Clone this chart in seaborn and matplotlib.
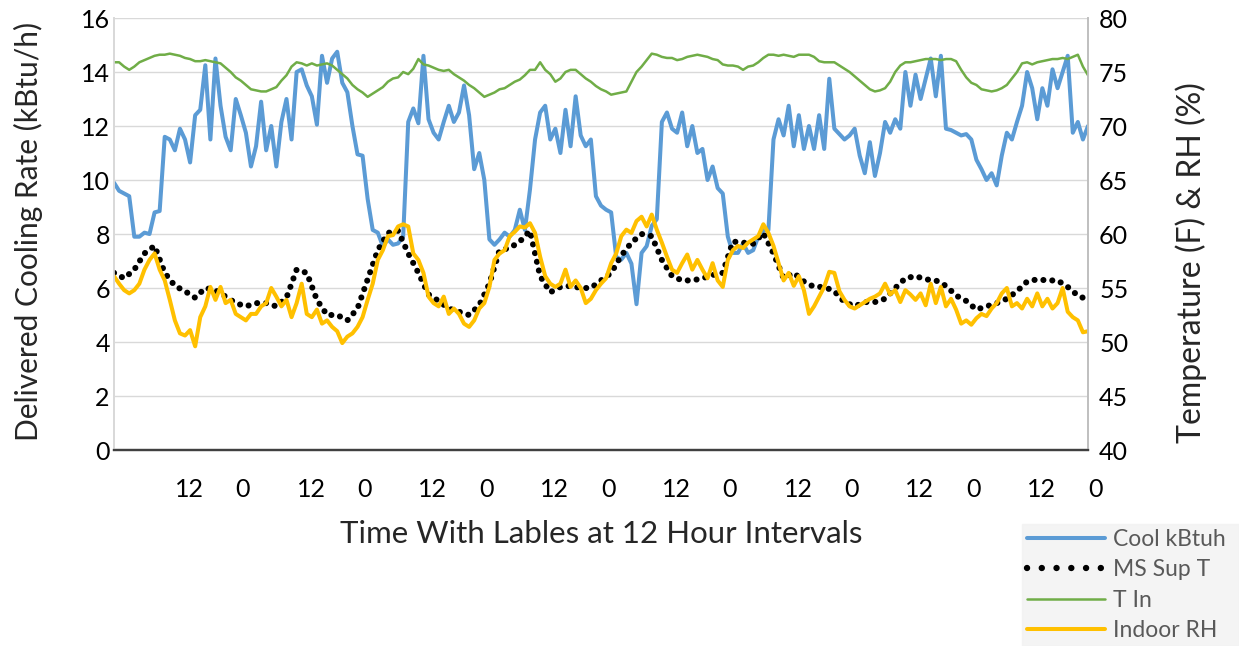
import matplotlib
matplotlib.use("Agg")
import matplotlib.pyplot as plt
from matplotlib.lines import Line2D
import pandas as pd
import seaborn as sns

# Hourly samples over eight days (hour 0 .. 192)
hours = list(range(0, 193))

cool_kbtuh = [
    9.9, 9.6, 9.5, 9.4, 7.9, 7.9, 8.05, 8.0, 8.8, 8.85, 11.6, 11.5, 11.1, 11.9,
    11.5, 10.65, 12.4, 12.6, 14.25, 11.5, 14.5, 12.75, 11.6, 11.1, 13.0, 12.4, 11.75, 10.5,
    11.25, 12.9, 11.1, 12.0, 10.5, 12.15, 13.0, 11.5, 14.0, 14.1, 13.5, 13.1, 12.05, 14.6,
    13.6, 14.5, 14.75, 13.6, 13.25, 12.0, 10.95, 10.9, 9.3, 8.15, 8.05, 7.55, 7.8, 7.6,
    7.65, 7.9, 12.15, 12.65, 12.1, 14.6, 12.25, 11.75, 11.5, 12.15, 12.75, 12.15, 12.5, 13.5,
    12.4, 10.4, 11.0, 10.0, 7.8, 7.6, 7.8, 8.05, 7.9, 8.15, 8.9, 8.15, 9.65,
    11.5, 12.5, 12.75, 11.5, 11.9, 11.0, 12.6, 11.25, 13.1, 11.65, 11.25, 11.5, 9.4, 9.05,
    8.9, 8.8, 7.15, 7.05, 7.3, 6.9, 5.4, 7.3, 7.55, 8.3, 8.55, 12.15, 12.5, 11.9,
    11.75, 12.5, 11.25, 12.0, 11.0, 11.15, 10.0, 10.5, 9.7, 9.5, 7.9, 7.3, 7.3, 7.65,
    7.3, 7.4, 7.9, 8.15, 8.15, 11.5, 12.25, 11.65, 12.75, 11.25, 12.4, 11.15, 12.0,
    11.15, 12.4, 11.15, 13.75, 11.9, 11.7, 11.5, 11.65, 11.9, 10.9, 10.25, 11.4, 10.15, 11.0,
    12.15, 11.75, 12.25, 11.9, 14.0, 12.75, 13.9, 13.0, 13.75, 14.5, 13.1, 14.6, 11.9, 11.85,
    11.75, 11.65, 11.7, 11.5, 10.75, 10.4, 10.0, 10.25, 9.8, 10.9, 11.75, 11.5, 12.15, 12.75,
    14.0, 13.4, 12.25, 13.4, 12.75, 14.1, 13.4, 14.0, 14.6, 11.75, 12.15, 11.5, 12.0,
]

t_in = [
    75.9, 75.9, 75.5, 75.2, 75.5, 75.9, 76.1, 76.3, 76.5, 76.6, 76.6, 76.7, 76.6, 76.5,
    76.3, 76.2, 76.0, 76.0, 76.1, 76.0, 75.9, 75.8, 75.4, 75.0, 74.5, 74.2, 73.8, 73.4,
    73.3, 73.2, 73.2, 73.4, 73.6, 74.2, 74.7, 75.5, 75.9, 75.8, 75.6, 75.8, 75.6, 75.7,
    75.8, 75.6, 75.2, 74.8, 74.4, 73.8, 73.4, 73.1, 72.7, 73.0, 73.3, 73.6, 74.1, 74.4,
    74.5, 75.0, 74.8, 75.3, 76.2, 75.7, 75.6, 75.4, 75.2, 75.1, 75.2, 74.8, 74.5, 74.2,
    73.8, 73.5, 73.1, 72.7, 72.9, 73.1, 73.4, 73.5, 73.8, 74.1, 74.3, 74.7, 75.2,
    75.2, 75.9, 75.2, 74.8, 74.1, 74.4, 75.0, 75.2, 75.2, 74.8, 74.4, 74.1, 73.7, 73.4,
    73.2, 72.9, 73.0, 73.1, 73.2, 74.1, 75.0, 75.5, 76.1, 76.7, 76.6, 76.4, 76.3, 76.3,
    76.1, 76.2, 76.4, 76.5, 76.6, 76.5, 76.4, 76.2, 76.1, 75.7, 75.6, 75.6, 75.5, 75.2,
    75.5, 75.6, 75.9, 76.3, 76.6, 76.6, 76.5, 76.6, 76.5, 76.4, 76.6, 76.6, 76.6,
    76.4, 76.0, 75.9, 75.9, 75.9, 75.6, 75.3, 75.0, 74.6, 74.2, 73.8, 73.4, 73.2, 73.3,
    73.5, 74.1, 75.0, 75.6, 75.9, 75.9, 76.0, 76.1, 76.2, 76.2, 76.2, 76.1, 76.2, 76.2,
    76.0, 75.2, 74.5, 74.0, 73.8, 73.4, 73.3, 73.2, 73.3, 73.5, 73.8, 74.4, 75.0, 75.8,
    75.9, 75.7, 75.9, 76.0, 76.1, 76.2, 76.2, 76.3, 76.2, 76.4, 76.6, 75.5, 74.7,
]

indoor_rh = [
    56.1, 55.4, 54.8, 54.5, 54.8, 55.4, 56.7, 57.6, 58.2, 56.7, 55.7, 53.9, 52.0, 50.8,
    50.6, 51.1, 49.6, 52.3, 53.3, 55.1, 53.9, 55.1, 53.6, 53.9, 52.6, 52.3, 52.0, 52.6,
    52.6, 53.3, 53.6, 55.0, 54.2, 53.3, 53.9, 52.3, 53.6, 55.4, 52.6, 52.3, 53.0, 51.7,
    52.0, 51.4, 51.0, 49.9, 50.5, 50.8, 51.4, 52.3, 53.9, 55.4, 57.6, 58.5, 59.8, 59.9,
    60.7, 60.9, 60.7, 58.2, 57.6, 56.4, 54.2, 53.6, 53.3, 54.2, 52.6, 53.1, 52.6, 51.7,
    51.4, 52.0, 53.1, 53.6, 55.1, 57.6, 58.2, 58.5, 59.8, 60.2, 60.7, 60.6, 61.0,
    60.1, 57.9, 56.1, 55.4, 55.1, 55.4, 56.7, 55.1, 55.7, 55.0, 53.6, 54.0, 54.8, 55.4,
    55.9, 57.3, 58.2, 59.8, 60.4, 60.1, 61.2, 61.6, 60.7, 61.8, 60.4, 59.2, 57.9, 56.7,
    56.4, 57.3, 58.1, 56.7, 57.6, 56.7, 55.9, 57.3, 55.7, 55.1, 57.6, 58.5, 58.9, 58.7,
    59.2, 59.5, 59.8, 60.9, 60.1, 58.9, 57.3, 55.7, 56.4, 55.2, 56.1, 54.8, 52.6,
    53.3, 54.2, 55.1, 56.5, 56.4, 54.7, 53.9, 53.3, 53.1, 53.4, 53.7, 54.0, 54.2, 54.5,
    55.4, 54.4, 54.8, 53.7, 54.8, 54.4, 53.9, 54.5, 53.4, 55.4, 53.6, 55.1, 53.3, 54.0,
    53.0, 51.7, 52.0, 51.6, 52.2, 52.6, 52.4, 53.1, 53.6, 54.5, 55.0, 53.3, 53.6, 53.1,
    54.0, 53.3, 54.5, 53.3, 54.0, 53.1, 53.6, 55.0, 52.8, 52.3, 52.0, 50.9, 51.0,
]

# Supply temperature, logged every two hours
sup_hours = list(range(0, 193, 2))
ms_sup_t = [
    56.4, 55.9, 56.7, 58.2, 58.9, 56.4, 55.2, 54.7, 54.1, 55.0, 54.8, 54.2, 53.6, 53.3,
    53.6, 53.6, 53.3, 54.1, 56.7, 56.4, 53.9, 52.5, 52.5, 52.0, 53.1, 55.8, 58.5, 60.1,
    60.3, 58.2, 56.4, 54.4, 53.8, 53.1, 52.8, 52.5, 53.4, 55.4, 58.5, 58.7, 59.3, 60.3,
    56.1, 54.6, 55.1, 55.2, 55.0, 55.0, 55.7, 56.4, 58.0, 59.2, 60.0, 59.8, 57.6, 56.1,
    55.7, 55.7, 55.9, 56.2, 56.4, 59.3, 59.2, 59.1, 60.1, 58.2, 55.9, 56.4, 55.6,
    55.1, 55.1, 54.7, 53.7, 53.3, 53.7, 53.7, 54.0, 55.0, 55.9, 56.1, 55.8, 55.7, 55.2,
    54.3, 53.8, 53.0, 53.3, 53.6, 54.0, 54.7, 55.6, 55.8, 55.7, 55.7, 55.1, 54.3, 53.9,
]

tick_hours = list(range(12, 193, 12))
tick_labels = ["12", "0"] * 8

left_ticks = list(range(0, 17, 2))
right_ticks = list(range(40, 81, 5))

COOL_C = "#5B9BD5"
TIN_C = "#70AD47"
RH_C = "#FFC000"

sns.set_theme(style="white")
plt.rcParams["font.family"] = ["Lato", "DejaVu Sans"]

fig = plt.figure(figsize=(12.39, 6.46), dpi=100)
ax = fig.add_axes([114 / 1239, 1 - 450 / 646, 974 / 1239, 432 / 646])
ax2 = ax.twinx()

cool_df = pd.DataFrame({"hour": hours, "value": cool_kbtuh})
tin_df = pd.DataFrame({"hour": hours, "value": t_in})
rh_df = pd.DataFrame({"hour": hours, "value": indoor_rh})
sup_df = pd.DataFrame({"hour": sup_hours, "value": ms_sup_t})

sns.lineplot(data=cool_df, x="hour", y="value", ax=ax, color=COOL_C,
             linewidth=2.9, legend=False)
sns.lineplot(data=sup_df, x="hour", y="value", ax=ax2, color="black",
             linewidth=4.4, legend=False,
             linestyle=(0, (0.01, 1.45)), dash_capstyle="round")
sns.lineplot(data=tin_df, x="hour", y="value", ax=ax2, color=TIN_C,
             linewidth=1.8, legend=False)
sns.lineplot(data=rh_df, x="hour", y="value", ax=ax2, color=RH_C,
             linewidth=2.9, legend=False)

ax.set_xlim(0, 192)
ax.set_ylim(0, 16)
ax2.set_ylim(40, 80)
ax.set_yticks(left_ticks)
ax2.set_yticks(right_ticks)
ax.set_xticks(tick_hours)
ax.set_xticklabels(tick_labels, ha="left")

ax.grid(axis="y", color="#D9D9D9", linewidth=1.0)
ax.grid(axis="x", visible=False)
ax2.grid(False)

for a in (ax, ax2):
    a.spines["top"].set_visible(False)
    a.spines["left"].set_color("#D9D9D9")
    a.spines["right"].set_color("#BFBFBF")
    a.spines["bottom"].set_color("#404040")
    a.spines["bottom"].set_linewidth(1.6)
    a.tick_params(length=0)

ax.tick_params(axis="y", labelsize=18, pad=3, labelcolor="black")
ax.tick_params(axis="x", labelsize=18, pad=20, labelcolor="black")
ax2.tick_params(axis="y", labelsize=18, pad=8, labelcolor="black")

ax.set_xlabel("Time With Lables at 12 Hour Intervals", fontsize=22.5, labelpad=14)
ax.set_ylabel("Delivered Cooling Rate (kBtu/h)", fontsize=21.5)
ax2.set_ylabel("Temperature (F) & RH (%)", fontsize=23)
ax.yaxis.set_label_coords(-0.073, 0.507)
ax2.yaxis.set_label_coords(1.090, 0.433)

legend_handles = [
    Line2D([], [], color=COOL_C, linewidth=2.9),
    Line2D([], [], color="black", linewidth=4.6, linestyle=(0, (0.01, 2.3)),
           dash_capstyle="round"),
    Line2D([], [], color=TIN_C, linewidth=1.8),
    Line2D([], [], color=RH_C, linewidth=2.9),
]
legend_labels = ["Cool kBtuh", "MS Sup T", "T In", "Indoor RH"]
leg = fig.legend(legend_handles, legend_labels,
                 loc="lower left", bbox_to_anchor=(1022 / 1239, 0.0, 217 / 1239, 126 / 646),
                 mode="expand", fontsize=16.5, frameon=True, fancybox=False,
                 borderaxespad=0.0, handlelength=3.4, labelspacing=0.42,
                 handletextpad=0.35, borderpad=0.2)
leg.get_frame().set_facecolor("#F2F2F2")
leg.get_frame().set_edgecolor("#F2F2F2")
for txt in leg.get_texts():
    txt.set_color("#595959")

fig.savefig("out.png", dpi=100)
